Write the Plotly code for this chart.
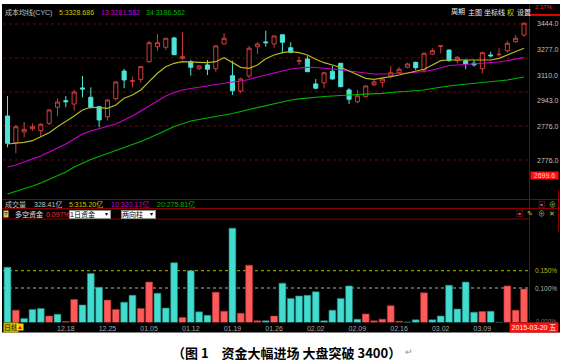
import plotly.graph_objects as go

W, H = 562, 361

# ---------------- data ----------------
idx = list(range(63))
opens = [2844, 2670, 2740, 2761, 2748, 2796, 2901, 2944, 2922, 3027,
         2966, 2905, 2839, 2957, 3137, 3070, 3083, 3198, 3296, 3292,
         3353, 3220, 3198, 3152, 3177, 3152, 3314, 3107, 3007, 3105,
         3296, 3327, 3314, 3374, 3289, 3201, 3216, 3053, 3061, 3136,
         3188, 3014, 2937, 2970, 3048, 3064, 3105, 3126, 3162, 3194,
         3144, 3248, 3299, 3274, 3205, 3205, 3188, 3152, 3242, 3244,
         3270, 3329, 3372]
highs = [2974, 2785, 2805, 2796, 2796, 2888, 2959, 2974, 3014, 3105,
         3031, 2909, 2953, 3072, 3151, 3100, 3170, 3335, 3379, 3353,
         3361, 3392, 3209, 3177, 3209, 3307, 3383, 3205, 3094, 3301,
         3325, 3400, 3368, 3376, 3325, 3231, 3237, 3085, 3133, 3170,
         3190, 3025, 3014, 3044, 3079, 3100, 3170, 3162, 3192, 3198,
         3257, 3286, 3302, 3279, 3235, 3214, 3209, 3263, 3263, 3286,
         3335, 3372, 3453]
lows = [2640, 2601, 2705, 2748, 2709, 2785, 2844, 2901, 2879, 2966,
        2892, 2770, 2813, 2944, 3025, 3031, 3061, 3192, 3270, 3274,
        3240, 3209, 3107, 3144, 3111, 3133, 3312, 2981, 2992, 3090,
        3248, 3296, 3286, 3253, 3253, 3177, 3130, 3020, 3025, 3083,
        3033, 2922, 2927, 2966, 3040, 3031, 3090, 3122, 3155, 3144,
        3126, 3242, 3253, 3198, 3188, 3149, 3166, 3122, 3227, 3231,
        3257, 3322, 3361]
closes = [2666, 2774, 2757, 2774, 2790, 2883, 2935, 2937, 3000, 3020,
          2901, 2818, 2948, 3066, 3079, 3074, 3166, 3322, 3322, 3351,
          3244, 3231, 3162, 3170, 3149, 3301, 3351, 3009, 3085, 3286,
          3314, 3322, 3366, 3325, 3259, 3205, 3133, 3025, 3126, 3085,
          3035, 2953, 2976, 3040, 3066, 3085, 3126, 3149, 3183, 3159,
          3253, 3270, 3301, 3205, 3227, 3183, 3177, 3257, 3237, 3246,
          3318, 3351, 3449]

ma5 = [2661.3, 2665.9, 2672.4, 2682.8, 2708.9, 2735.0, 2774.1, 2806.8, 2843.9, 2883.1,
       2900.7, 2898.1, 2894.2, 2915.7, 2959.4, 2980.9, 3013.5, 3067.7, 3122.5, 3165.5,
       3187.7, 3198.1, 3198.1, 3194.2, 3191.6, 3198.1, 3224.2, 3191.6, 3161.6, 3155.1,
       3176.6, 3217.0, 3241.8, 3256.8, 3263.4, 3256.8, 3241.8, 3213.8, 3191.6, 3176.6,
       3161.6, 3137.5, 3111.4, 3089.9, 3083.3, 3089.9, 3100.3, 3111.4, 3122.5, 3132.9,
       3148.6, 3176.6, 3204.7, 3209.2, 3209.2, 3204.7, 3204.7, 3209.2, 3209.2, 3220.3,
       3241.8, 3263.4, 3285.5]
ma13 = [2511.3, 2524.3, 2543.9, 2563.4, 2583.0, 2609.1, 2635.2, 2661.3, 2693.9, 2726.5,
        2746.1, 2762.4, 2775.4, 2791.7, 2817.8, 2843.9, 2876.5, 2909.2, 2941.8, 2974.4,
        2997.2, 3013.5, 3023.3, 3029.8, 3039.6, 3049.4, 3059.2, 3065.7, 3072.2, 3082.0,
        3098.3, 3111.4, 3127.7, 3140.7, 3150.5, 3157.0, 3161.6, 3160.3, 3157.0, 3150.5,
        3144.0, 3137.5, 3130.9, 3124.4, 3117.9, 3117.9, 3117.9, 3121.2, 3124.4, 3127.7,
        3134.2, 3144.0, 3160.3, 3173.3, 3176.6, 3179.9, 3183.1, 3186.4, 3189.6, 3196.2,
        3206.0, 3215.7, 3224.2]
ma34 = [2335.1, 2351.4, 2367.8, 2387.3, 2406.9, 2429.7, 2452.6, 2478.6, 2511.3, 2537.4,
        2560.2, 2579.7, 2599.3, 2615.6, 2635.2, 2654.8, 2677.6, 2700.4, 2723.3, 2749.3,
        2775.4, 2795.0, 2811.3, 2821.1, 2830.9, 2837.4, 2847.2, 2860.2, 2873.3, 2886.3,
        2899.4, 2912.4, 2925.5, 2938.5, 2948.3, 2956.1, 2962.6, 2967.9, 2971.1, 2974.4,
        2979.0, 2980.9, 2984.2, 2986.1, 2987.4, 2992.0, 2997.2, 3000.5, 3003.7, 3007.0,
        3013.5, 3023.3, 3033.1, 3039.6, 3046.1, 3051.4, 3055.9, 3060.5, 3065.7, 3072.2,
        3078.8, 3088.5, 3098.3]

# 多空资金 (%), and direction: 1 = 流入 (red), 0 = 流出 (cyan)
flow = [0.160, 0.036, 0.012, 0.038, 0.041, 0.019, 0.024, 0.003, 0.067, 0.051,
        0.142, 0.102, 0.065, 0.038, 0.059, 0.079, 0.041, 0.117, 0.085, 0.042,
        0.173, 0.015, 0.150, 0.031, 0.021, 0.088, 0.033, 0.273, 0.027, 0.166,
        0.005, 0.005, 0.019, 0.114, 0.070, 0.077, 0.079, 0.089, 0.005, 0.036,
        0.070, 0.106, 0.010, 0.025, 0.005, 0.010, 0.049, 0.004, 0.002, 0.008,
        0.086, 0.008, 0.019, 0.108, 0.039, 0.117, 0.030, 0.032, 0.033, 0.001,
        0.106, 0.036, 0.097]
flow_dir = [0, 1, 0, 0, 0, 1, 0, 1, 1, 0,
            0, 0, 1, 1, 0, 0, 1, 1, 0, 0,
            0, 1, 0, 0, 0, 1, 1, 0, 1, 1,
            1, 0, 1, 0, 0, 0, 0, 0, 0, 0,
            0, 0, 0, 1, 1, 1, 1, 1, 0, 0,
            1, 0, 0, 0, 0, 0, 0, 1, 0, 0,
            1, 1, 1]

date_tick_idx = [7, 12, 17, 22, 27, 32, 37, 42, 47, 52, 57]
date_tick_text = ["12.18", "12.25", "01.05", "01.12", "01.19", "01.26",
                  "02.02", "02.09", "02.16", "03.02", "03.09"]
last_date = "2015-03-20 五"

price_label_vals = [3444.0, 3277.0, 3110.0, 2943.0, 2776.0, 2552.3]
price_label_text = ["3444.0", "3277.0", "3110.0", "2943.0", "2776.0", "2776.0"]
grid_vals = [3444.0, 3222.2, 3000.4, 2778.6, 2556.8]
cursor_price = 2454.5
cursor_text = "2699.6"
flow_levels = [0.150, 0.100]
flow_level_colors = ["#b8b800", "#b0b0b0"]

# ---------------- styling helpers ----------------
def fx(px):
    return px / W

def fy(py):
    return 1 - py / H

RED = "#d23c3c"
CYAN = "#4fe3d8"
HRED = "#ff5a5a"
HCYAN = "#42dccf"
YEL = "#c8c800"
MAG = "#c800c8"
GRN = "#00b400"
GRAY = "#c0c0c0"
SEP = "#8a0000"
FONT = "Liberation Sans, Noto Sans CJK SC, sans-serif"

fig = go.Figure()

fig.add_trace(go.Candlestick(
    x=idx, open=opens, high=highs, low=lows, close=closes,
    increasing=dict(line=dict(color=RED, width=1), fillcolor="#000000"),
    decreasing=dict(line=dict(color=CYAN, width=1), fillcolor=CYAN),
    whiskerwidth=0, xaxis="x", yaxis="y", hoverinfo="skip"))

for vals, col in [(ma34, GRN), (ma13, MAG), (ma5, "#b8b820")]:
    fig.add_trace(go.Scatter(x=idx, y=vals, mode="lines",
                             line=dict(color=col, width=1.2),
                             xaxis="x", yaxis="y", hoverinfo="skip"))

fig.add_trace(go.Bar(
    x=idx, y=flow,
    marker=dict(color=[HRED if d else HCYAN for d in flow_dir],
                line=dict(width=0.6, color=["#b03030" if d else "#1f7f78" for d in flow_dir])),
    xaxis="x2", yaxis="y2", hoverinfo="skip"))

xr = [-0.54, 62.6]
fig.update_layout(
    width=W, height=H, margin=dict(l=0, r=0, t=0, b=0),
    paper_bgcolor="white", plot_bgcolor="black", showlegend=False,
    bargap=0.18,
    font=dict(family=FONT, size=7, color=GRAY),
    xaxis=dict(domain=[fx(3), fx(529)], range=xr, showticklabels=False,
               showgrid=False, zeroline=False, rangeslider=dict(visible=False),
               anchor="y", fixedrange=True),
    yaxis=dict(domain=[fy(198), fy(4)], range=[2309.0, 3574.5], side="right",
               anchor="x", tickvals=price_label_vals, ticktext=price_label_text,
               ticks="", showgrid=False, zeroline=False, showline=False,
               ticklabelstandoff=7,
               tickfont=dict(family=FONT, size=7, color=GRAY)),
    xaxis2=dict(domain=[fx(3), fx(529)], range=xr, anchor="y2",
                tickvals=date_tick_idx, ticktext=date_tick_text, ticks="",
                showgrid=False, zeroline=False, showline=False,
                ticklabelstandoff=0,
                tickfont=dict(family=FONT, size=7, color="#a8a8a8")),
    yaxis2=dict(domain=[fy(322.6), fy(219)], range=[0, 0.2994], anchor="x2",
                showticklabels=False, showgrid=False, zeroline=False),
)

shapes = []
# black panel background
shapes.append(dict(type="rect", xref="paper", yref="paper", x0=fx(2), x1=fx(560),
                   y0=fy(332.5), y1=fy(4), fillcolor="black", line=dict(width=0), layer="below"))
# main grid (dotted dark red)
for g in grid_vals:
    shapes.append(dict(type="line", xref="x domain", yref="y", x0=0, x1=1, y0=g, y1=g,
                       line=dict(color="#7a0000", width=1, dash="dot"), layer="below"))
# flow reference levels
for v, c in zip(flow_levels, flow_level_colors):
    shapes.append(dict(type="line", xref="x2 domain", yref="y2", x0=0, x1=1, y0=v, y1=v,
                       line=dict(color=c, width=1, dash="dot"), layer="below"))
# separators
def hline(py, x0, x1, w=1, c=SEP):
    shapes.append(dict(type="line", xref="paper", yref="paper", x0=fx(x0), x1=fx(x1),
                       y0=fy(py), y1=fy(py), line=dict(color=c, width=w)))
def vline(px, y0, y1, w=1, c=SEP):
    shapes.append(dict(type="line", xref="paper", yref="paper", x0=fx(px), x1=fx(px),
                       y0=fy(y0), y1=fy(y1), line=dict(color=c, width=w)))
hline(199.5, 2, 560)
hline(208.5, 2, 560)
hline(219, 2, 529.5)
vline(529.5, 4, 322)
vline(558.5, 190, 232)
hline(15, 530, 560, w=2, c="#e00000")
fig.update_layout(shapes=shapes)

ann = []
def txt(px, py, s, color=GRAY, size=7, anchor="left", **kw):
    d = dict(xref="paper", yref="paper", x=fx(px), y=fy(py), text=s, showarrow=False,
             xanchor=anchor, yanchor="middle", font=dict(family=FONT, size=size, color=color))
    d.update(kw)
    ann.append(d)

# header row
txt(3, 12, "成本均线(CYC)", GRAY)
txt(57, 12, "5:3328.686", YEL)
txt(99, 12, "13:3281.582", MAG)
txt(144, 12, "34:3186.562", GRN)
for px, s, c in [(449, "周期", "#e8e8e8"), (466, "主图", "#e8e8e8"), (482, "坐标线", "#e8e8e8"),
                 (505, "权", "#e0d000"), (515, "设置", "#e8e8e8")]:
    txt(px, 12, s, c)
txt(533, 7, "2.17%", "#ff2020", size=6)

# volume row
txt(3, 204.5, "成交量", GRAY)
txt(32, 204.5, "328.41亿", GRAY)
txt(67, 204.5, "5:315.20亿", YEL)
txt(109, 204.5, "10:320.17亿", MAG)
txt(155, 204.5, "20:275.81亿", GRN)
txt(541, 204.5, "▣", "#c05050", size=7, anchor="center")
txt(552, 204.5, "⊕", "#80c040", size=7, anchor="center")

# flow row
txt(6, 214, "?", "#000000", size=6, anchor="center", bgcolor="#d8c850", borderpad=0)
txt(13, 214, "多空资金", "#e8e8e8")
txt(44, 214, "0.097%", "#ff3030")
txt(68.5, 214, "1日资金", "#000000", bgcolor="#ffffff", bordercolor="#909090",
    borderwidth=1, borderpad=0, width=40, height=7, align="left")
txt(106, 214, "▾", "#000000", size=6, anchor="center")
txt(120.5, 214, "两向柱", "#000000", bgcolor="#ffffff", bordercolor="#909090",
    borderwidth=1, borderpad=0, width=33, height=7, align="left")
txt(151, 214, "▾", "#000000", size=6, anchor="center")
txt(519, 213.5, "▣", "#c05050", size=7, anchor="center")
txt(530, 213.5, "✎", "#d0c040", size=7, anchor="center")
txt(541, 213.5, "⊕", "#80c040", size=7, anchor="center")
txt(552, 213.5, "✕", "#d0c040", size=7, anchor="center")

# flow level labels
for v, c in zip(flow_levels, flow_level_colors):
    ann.append(dict(xref="paper", yref="y2", x=fx(558), y=v, text=f"{v:.3f}%", showarrow=False,
                    xanchor="right", yanchor="middle", borderpad=0,
                    font=dict(family=FONT, size=6.5, color=c)))
ann.append(dict(xref="paper", yref="y2", x=fx(558), y=0.006, text="0.000%", showarrow=False,
                xanchor="right", yanchor="middle", borderpad=0,
                font=dict(family=FONT, size=6, color="#707070")))

# cursor price box on right axis
ann.append(dict(xref="paper", yref="y", x=fx(544), y=cursor_price, text=cursor_text,
                showarrow=False, xanchor="center", yanchor="middle", bgcolor="#ff1010",
                width=27, height=7, borderpad=0,
                font=dict(family=FONT, size=7, color="#ffd0d0")))

# bottom strip
txt(3, 327, "日线", "#202000", bgcolor="#c8b400", borderpad=0, size=7)
txt(20, 327, "▲", "#e00000", size=6, anchor="center", bgcolor="#f0dc00", borderpad=0)
txt(533.5, 327, last_date, "#ffffff", anchor="center", bgcolor="#ff1010",
    width=48, height=9, borderpad=0)

# caption
txt(170, 352, "（图 1　资金大幅进场 大盘突破 3400）", "#000000", size=13)
ann[-1]["font"] = dict(family="Noto Sans CJK SC", size=13, color="#000000", weight="bold")
txt(403, 352, "↵", "#909090", size=9)

fig.update_layout(annotations=ann)
fig.write_html("out.html")
